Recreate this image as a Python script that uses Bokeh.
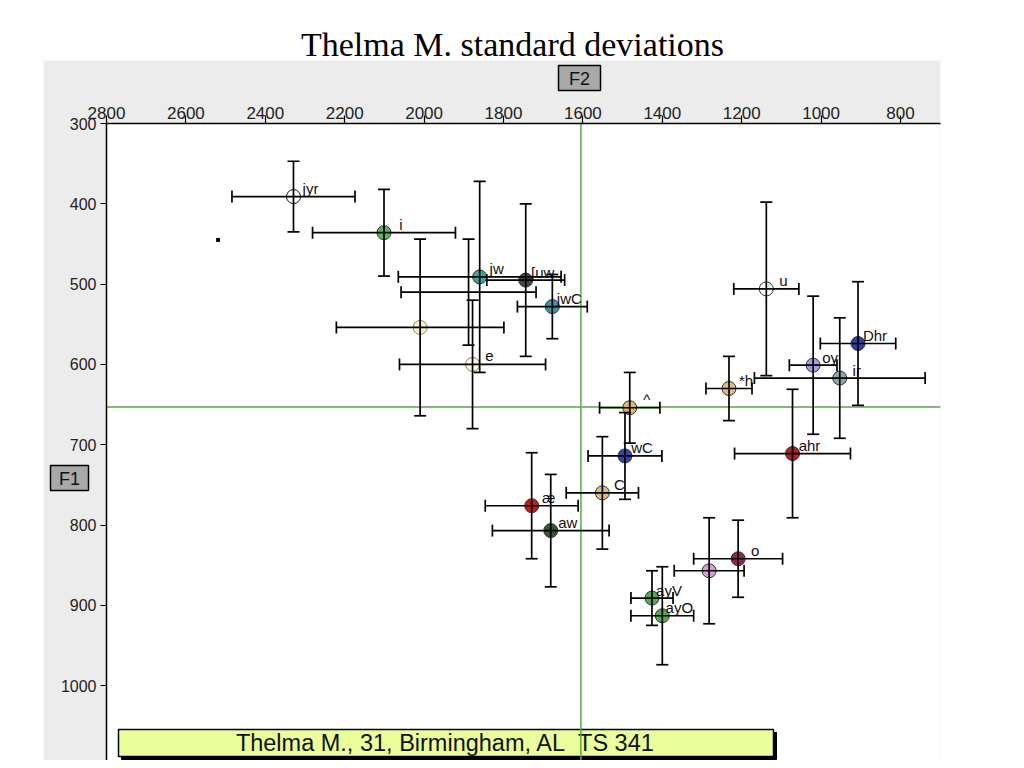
from bokeh.plotting import figure
from bokeh.models import (ColumnDataSource, Range1d, FixedTicker, Whisker, TeeHead)
from bokeh.core.properties import value
from bokeh.embed import file_html
from bokeh.resources import INLINE

# ---------------- data ----------------
title_text = "Thelma M. standard deviations"
speaker_text = "Thelma M., 31, Birmingham, AL\u00a0\u00a0TS 341"
x_axis_name = "F2"
y_axis_name = "F1"

vowel_labels = ["jyr", "i", "jw", "[uw", "", "jwC", "e", "", "u", "^", "wC", "C",
                "æ", "aw", "o", "", "ayV", "ayO", "*h", "oy", "Dhr", "ir", "ahr"]
f2_means = [2329, 2101, 1860, 1744, 1888, 1677, 1878, 2010, 1138, 1482, 1494, 1551,
            1729, 1681, 1209, 1282, 1426, 1400, 1232, 1020, 907, 953, 1072]
f1_means = [391, 436, 491, 495, 510, 528, 600, 554, 506, 654, 714, 760,
            776, 807, 842, 857, 891, 913, 630, 601, 574, 617, 711]
f2_sds = [155, 180, 205, 98, 170, 88, 184, 211, 82, 76, 93, 91,
          117, 147, 112, 88, 53, 79, 58, 60, 95, 215, 146]
f1_sds = [44, 54, 119, 95, 66, 40, 80, 110, 108, 44, 54, 70,
          66, 70, 48, 66, 34, 61, 40, 86, 77, 75, 80]

# styles
fill_colors = ["#ffffff", "#5cb85c", "#3aa6a0", "#3e4a40", "#ffffff", "#3a98a8",
               "#fffaf0", "#f8ecd0", "#ffffff", "#d8b86a", "#3344aa", "#dcc07a",
               "#b82020", "#2e5a36", "#9a1f58", "#d7a0d2", "#4caf50", "#5aa850",
               "#e0c070", "#a0a0e0", "#3040a0", "#88aaaa", "#b52020"]
line_colors = ["#111111", "#333333", "#333333", "#333333", "#333333", "#333333",
               "#8a7a5a", "#9a8450", "#224422", "#333333", "#333333", "#333333",
               "#333333", "#333333", "#333333", "#333333", "#333333", "#333333",
               "#333333", "#333333", "#333333", "#333333", "#333333"]
marker_alphas = [1, 1, 1, 1, 0, 1, 1, 1, 1, 1, 1, 1, 1, 1, 1, 1, 1, 1, 1, 1, 1, 1, 1]

stray_f2 = [2519]
stray_f1 = [445]

mean_f2 = 1605
mean_f1 = 653

x_ticks = [2800, 2600, 2400, 2200, 2000, 1800, 1600, 1400, 1200, 1000, 800]
y_ticks = [300, 400, 500, 600, 700, 800, 900, 1000, 1100]

# ---------------- page geometry (pixel -> data helpers) ----------------
X_PX0, X_VAL0, X_SCALE = 106, 2800.0, 0.397   # px per Hz
Y_PX0, Y_VAL0, Y_SCALE = 123, 300.0, 0.803
FIG_W, FIG_H = 1008, 760


def xd(px):
    return X_VAL0 - (px - X_PX0) / X_SCALE


def yd(py):
    return Y_VAL0 + (py - Y_PX0) / Y_SCALE


PLOT_RIGHT = xd(940)
PLOT_BOTTOM = yd(FIG_H)

src = ColumnDataSource(dict(
    f2=f2_means, f1=f1_means, label=vowel_labels,
    f2lo=[m - s for m, s in zip(f2_means, f2_sds)],
    f2hi=[m + s for m, s in zip(f2_means, f2_sds)],
    f1lo=[m - s for m, s in zip(f1_means, f1_sds)],
    f1hi=[m + s for m, s in zip(f1_means, f1_sds)],
    fill=fill_colors, line=line_colors, alpha=marker_alphas,
))

# ---------------- figure ----------------
p = figure(width=FIG_W, height=FIG_H, output_backend="svg", toolbar_location=None,
           x_range=Range1d(xd(0), xd(FIG_W)), y_range=Range1d(yd(FIG_H), yd(0)),
           x_axis_location="above", y_axis_location="left",
           min_border=0)
p.border_fill_color = "white"
p.background_fill_color = "white"
p.outline_line_color = None
p.grid.visible = False

# gray panel and white plotting area
p.quad(left=[xd(43)], right=[xd(940)], top=[yd(60)], bottom=[PLOT_BOTTOM],
       fill_color="#ececec", line_color=None, level="underlay")
p.quad(left=[X_VAL0], right=[PLOT_RIGHT], top=[Y_VAL0], bottom=[PLOT_BOTTOM],
       fill_color="white", line_color=None, level="underlay")

# title
p.text(x=[xd(512)], y=[yd(44)], text=[title_text], text_align="center",
       text_baseline="middle", text_font=value("Liberation Serif"),
       text_font_size="34px", text_color="black", level="underlay")

# axes fixed at the plot corner
p.xaxis.fixed_location = Y_VAL0
p.xaxis.bounds = (PLOT_RIGHT, X_VAL0)
p.yaxis.fixed_location = X_VAL0
p.yaxis.bounds = (Y_VAL0, PLOT_BOTTOM)
for ax, ticks in ((p.xaxis, x_ticks), (p.yaxis, y_ticks)):
    ax.ticker = FixedTicker(ticks=ticks)
    ax.minor_tick_line_color = None
    ax.axis_line_color = "black"
    ax.axis_line_width = 1.5
    ax.major_tick_line_color = "black"
    ax.major_tick_line_width = 1.2
    ax.major_tick_in = 0
    ax.major_label_text_font = "Liberation Sans"
    ax.major_label_text_color = "#222222"
p.xaxis.major_tick_out = 8
p.xaxis.major_label_standoff = -3
p.xaxis.major_label_text_font_size = "17px"
p.yaxis.major_tick_out = 6
p.yaxis.major_label_standoff = 4
p.yaxis.major_label_text_font_size = "16px"

# axis name boxes (F2 above, F1 at left)
for txt, l, r, t, b in ((x_axis_name, 558, 600, 65, 90), (y_axis_name, 50, 88, 465, 490)):
    p.quad(left=[xd(l)], right=[xd(r)], top=[yd(t)], bottom=[yd(b)],
           fill_color="#a9a9a9", line_color="black", line_width=1.5, level="underlay")
    p.text(x=[xd((l + r) / 2)], y=[yd((t + b) / 2 + 1)], text=[txt], text_align="center",
           text_baseline="middle", text_font=value("Liberation Sans"),
           text_font_size="18px", text_color="#111111", level="underlay")

# speaker box at the bottom
p.quad(left=[xd(121)], right=[xd(776)], top=[yd(732)], bottom=[yd(759)],
       fill_color="black", line_color="black", level="underlay")
p.quad(left=[xd(118)], right=[xd(773)], top=[yd(729)], bottom=[yd(756)],
       fill_color="#eaff9c", line_color="black", line_width=1.5, level="underlay")
p.text(x=[xd(445)], y=[yd(742.5)], text=[speaker_text],
       text_align="center", text_baseline="middle", text_font=value("Liberation Sans"),
       text_font_size="23.5px", text_color="#111111", level="underlay")

# mean crosshair
p.segment(x0=[mean_f2], x1=[mean_f2], y0=[Y_VAL0], y1=[PLOT_BOTTOM],
          line_color="#55aa44", line_width=1.5, level="underlay")
p.segment(x0=[X_VAL0], x1=[PLOT_RIGHT], y0=[mean_f1], y1=[mean_f1],
          line_color="#55aa44", line_width=1.5, level="underlay")

# markers
p.scatter("f2", "f1", source=src, size=14, fill_color="fill", line_color="line",
          fill_alpha="alpha", line_alpha="alpha", line_width=1)
p.scatter(stray_f2, stray_f1, size=3, marker="square", color="black")

# error bars
for base, lo, hi, dim in (("f1", "f2lo", "f2hi", "width"), ("f2", "f1lo", "f1hi", "height")):
    w = Whisker(source=src, base=base, lower=lo, upper=hi, dimension=dim,
                line_color="black", line_width=1.7, level="annotation",
                upper_head=TeeHead(size=12, line_width=1.7, line_color="black"),
                lower_head=TeeHead(size=12, line_width=1.7, line_color="black"))
    p.add_layout(w)

# vowel labels
p.text("f2", "f1", text="label", source=src, x_offset=17, y_offset=-8,
       text_align="center", text_baseline="middle",
       text_font=value("Liberation Sans"), text_font_size="15px", text_color="#111111")

open("out.html", "w").write(file_html(p, INLINE))
